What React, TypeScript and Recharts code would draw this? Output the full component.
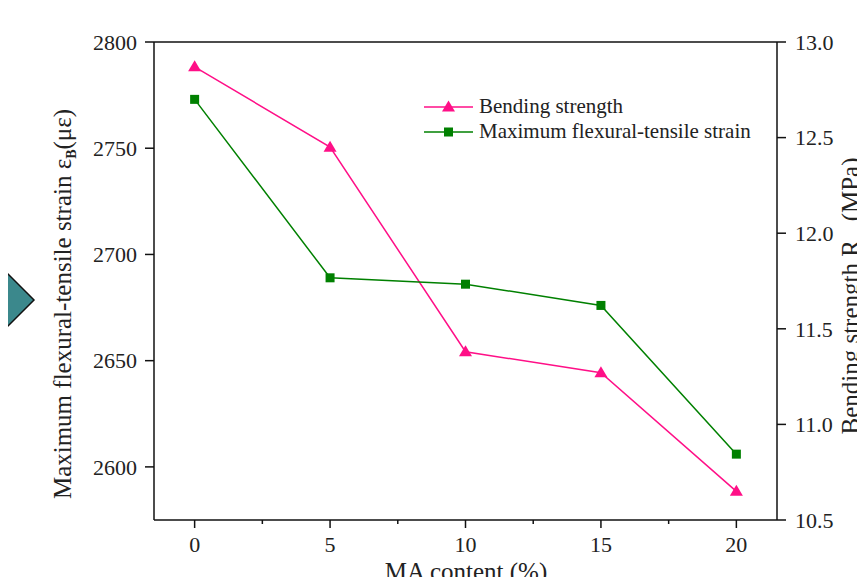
import React from "react";
import {
  LineChart, Line, XAxis, YAxis, Legend, ReferenceLine,
} from "recharts";

// MA content (%) on x
const maContent = [0, 5, 10, 15, 20];
// right axis, MPa
const bendingStrength = [12.87, 12.45, 11.38, 11.27, 10.65];
// left axis, microstrain
const maxStrain = [2773, 2689, 2686, 2676, 2606];

const xTicks = [0, 2.5, 5, 7.5, 10, 12.5, 15, 17.5, 20];
const leftTicks = [2600, 2650, 2700, 2750, 2800];
const rightTicks = [10.5, 11.0, 11.5, 12.0, 12.5, 13.0];

const PINK = "#ff0f87";
const GREEN = "#008000";
const AXIS = "#111";
const FONT = '"Liberation Serif", "Times New Roman", serif';

const data = maContent.map((x, i) => ({
  ma: x,
  bending: bendingStrength[i],
  strain: maxStrain[i],
}));

const TriangleDot = (props: any) => {
  const { cx, cy } = props;
  if (cx == null || cy == null) return null;
  return (
    <polygon
      points={`${cx},${cy - 6.5} ${cx - 6.5},${cy + 4.5} ${cx + 6.5},${cy + 4.5}`}
      fill={PINK}
    />
  );
};

const SquareDot = (props: any) => {
  const { cx, cy } = props;
  if (cx == null || cy == null) return null;
  return <rect x={cx - 4.5} y={cy - 4.5} width={9} height={9} fill={GREEN} />;
};

const XTick = (props: any) => {
  const { x, y, payload } = props;
  const major = payload.value % 5 === 0;
  return (
    <g>
      <line x1={x} x2={x} y1={y} y2={y + (major ? 8 : 4)} stroke={AXIS} strokeWidth={1.5} />
      {major && (
        <text x={x} y={y + 32} textAnchor="middle" fontSize={22} fontFamily={FONT} fill="#222">
          {payload.value}
        </text>
      )}
    </g>
  );
};

const renderLegend = (props: any) => {
  const { payload } = props;
  return (
    <div style={{ fontFamily: FONT, fontSize: 21, color: "#222", lineHeight: "25px" }}>
      {(payload || []).map((entry: any) => {
        const tri = entry.dataKey === "bending";
        return (
          <div key={entry.value} style={{ display: "flex", alignItems: "center", height: 25 }}>
            <svg width={55} height={16} style={{ display: "block" }}>
              <line x1={0} x2={49} y1={8} y2={8} stroke={entry.color} strokeWidth={1.5} />
              {tri ? (
                <polygon points="24.5,1.5 18,12.5 31,12.5" fill={PINK} />
              ) : (
                <rect x={20} y={3.5} width={9} height={9} fill={GREEN} />
              )}
            </svg>
            <span>{entry.value}</span>
          </div>
        );
      })}
    </div>
  );
};

export default function App() {
  return (
    <div style={{ position: "relative", width: 865, height: 585, margin: -8, overflow: "hidden", background: "#fff" }}>
      <svg width={60} height={585} style={{ position: "absolute", left: 0, top: 0 }}>
        <polygon points="-2,264 34,300 -2,336" fill="#3b888c" stroke="#111" strokeWidth={1.5} />
      </svg>
      <LineChart
        width={865}
        height={585}
        data={data}
        margin={{ top: 42, right: 28, bottom: 25, left: 94 }}
        style={{ fontFamily: FONT }}
      >
        <XAxis
          dataKey="ma"
          type="number"
          domain={[-1.5, 21.5]}
          ticks={xTicks}
          interval={0}
          height={40}
          tickLine={false}
          tickSize={0}
          tickMargin={0}
          tick={<XTick />}
          axisLine={{ stroke: AXIS, strokeWidth: 1.5 }}
          label={{
            content: () => (
              <text x={466} y={580} textAnchor="middle" fontSize={25} fontFamily={FONT} fill="#222">
                MA content (%)
              </text>
            ),
          }}
        />
        <YAxis
          yAxisId="left"
          orientation="left"
          width={60}
          domain={[2575, 2800]}
          ticks={leftTicks}
          interval={0}
          tickSize={9}
          tickMargin={8}
          tick={{ fontSize: 22, fontFamily: FONT, fill: "#222" }}
          tickLine={{ stroke: AXIS, strokeWidth: 1.5 }}
          axisLine={{ stroke: AXIS, strokeWidth: 1.5 }}
          label={{
            content: () => (
              <text
                transform="translate(71,304) rotate(-90)"
                textAnchor="middle"
                fontSize={25}
                fontFamily={FONT}
                fill="#222"
              >
                Maximum flexural-tensile strain ε
                <tspan fontSize={14} fontWeight="bold" dy={5}>B</tspan>
                <tspan dy={-5}>(με)</tspan>
              </text>
            ),
          }}
        />
        <YAxis
          yAxisId="right"
          orientation="right"
          width={60}
          domain={[10.5, 13]}
          ticks={rightTicks}
          interval={0}
          tickSize={9}
          tickMargin={9}
          tickFormatter={(v: number) => v.toFixed(1)}
          tick={{ fontSize: 22, fontFamily: FONT, fill: "#222" }}
          tickLine={{ stroke: AXIS, strokeWidth: 1.5 }}
          axisLine={{ stroke: AXIS, strokeWidth: 1.5 }}
          label={{
            content: () => (
              <text
                transform="translate(859,296) rotate(-90)"
                textAnchor="middle"
                fontSize={25}
                fontFamily={FONT}
                fill="#222"
              >
                Bending strength R_ (MPa)
              </text>
            ),
          }}
        />
        <ReferenceLine yAxisId="left" y={2800} stroke={AXIS} strokeWidth={1.5} />
        <Legend
          layout="vertical"
          align="center"
          verticalAlign="middle"
          content={renderLegend}
          wrapperStyle={{ top: 94, left: 424, width: 400 }}
        />
        <Line
          yAxisId="right"
          dataKey="bending"
          name="Bending strength"
          stroke={PINK}
          strokeWidth={1.5}
          dot={<TriangleDot />}
          activeDot={false}
          isAnimationActive={false}
        />
        <Line
          yAxisId="left"
          dataKey="strain"
          name="Maximum flexural-tensile strain"
          stroke={GREEN}
          strokeWidth={1.5}
          dot={<SquareDot />}
          activeDot={false}
          isAnimationActive={false}
        />
      </LineChart>
    </div>
  );
}
